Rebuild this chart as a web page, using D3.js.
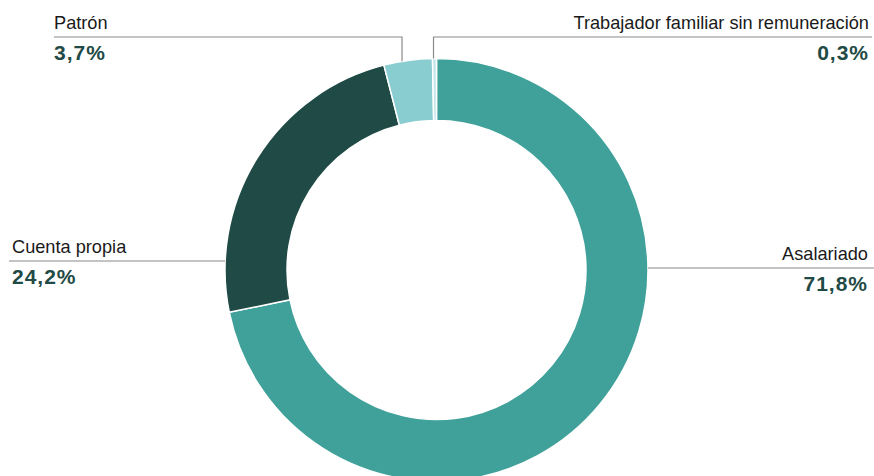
<!DOCTYPE html>
<meta charset="utf-8">
<style>
body { margin: 0; overflow: hidden; background: #fff; }
.label { font-family: "Liberation Sans", Arial, sans-serif; font-size: 18.2px; fill: #1a1a1a; }
.value { font-family: "Liberation Sans", Arial, sans-serif; font-size: 21px; font-weight: bold; fill: #1f4a45; letter-spacing: 1px; }
.leader { stroke: #8a8a8a; stroke-width: 1.2px; fill: none; }
</style>
<svg width="874" height="476"></svg>
<script src="https://d3js.org/d3.v7.min.js"></script>
<script>
// shares of employment by category (%)
const categories = ["Asalariado", "Cuenta propia", "Patrón", "Trabajador familiar sin remuneración"];
const values = [71.8, 24.2, 3.7, 0.3];
const valueLabels = ["71,8%", "24,2%", "3,7%", "0,3%"];
const colors = ["#3fa199", "#1f4a45", "#8acdd1", "#c4e6ea"];

const width = 874, height = 476;
const cx = 436.5, cy = 270;
const outerR = 211.5, innerR = 149.5;

const svg = d3.select("svg");
const g = svg.append("g").attr("transform", `translate(${cx},${cy})`);

const data = categories.map((c, i) => ({ name: c, value: values[i], text: valueLabels[i], color: colors[i] }));

const pie = d3.pie().sort(null).value(d => d.value);
const arcs = pie(data);
const arc = d3.arc().innerRadius(innerR).outerRadius(outerR);

g.selectAll("path.slice")
  .data(arcs)
  .join("path")
  .attr("class", "slice")
  .attr("d", arc)
  .attr("fill", d => d.data.color)
  .attr("stroke", "#fff")
  .attr("stroke-width", 1.5);

// label layout: side = which way the text goes, dy = line height relative to centre (side labels)
const layout = {
  "Asalariado": { side: "right", dy: -2 },
  "Cuenta propia": { side: "left", dy: -9 },
  "Patrón": { side: "top-left", textX: 54 },
  "Trabajador familiar sin remuneración": { side: "top-right", textX: 869 }
};
const topLineY = 37;

arcs.forEach(a => {
  const L = layout[a.data.name];
  let lineD, tx, ty, anchor;
  if (L.side === "right" || L.side === "left") {
    const y = cy + L.dy;
    const xa = Math.sqrt(outerR * outerR - L.dy * L.dy);
    if (L.side === "right") {
      lineD = `M${cx + xa},${y}H${width}`;
      tx = 868; anchor = "end";
    } else {
      lineD = `M${cx - xa},${y}H9`;
      tx = 12; anchor = "start";
    }
    ty = y;
  } else {
    const mid = (a.startAngle + a.endAngle) / 2;
    const px = cx + outerR * Math.sin(mid) - (L.side === "top-left" ? 6 : 1);
    const dx = px - cx;
    const py = cy - Math.sqrt(outerR * outerR - dx * dx);
    if (L.side === "top-left") {
      lineD = `M${px},${py}V${topLineY}H${L.textX}`;
      anchor = "start";
    } else {
      lineD = `M${px},${py}V${topLineY}H${width - 2}`;
      anchor = "end";
    }
    tx = L.textX; ty = topLineY;
  }
  svg.append("path").attr("class", "leader").attr("d", lineD);
  svg.append("text").attr("class", "label")
    .attr("x", tx).attr("y", ty - 8)
    .attr("text-anchor", anchor)
    .text(a.data.name);
  svg.append("text").attr("class", "value")
    .attr("x", tx).attr("y", ty + 23)
    .attr("text-anchor", anchor)
    .text(a.data.text);
});
</script>
